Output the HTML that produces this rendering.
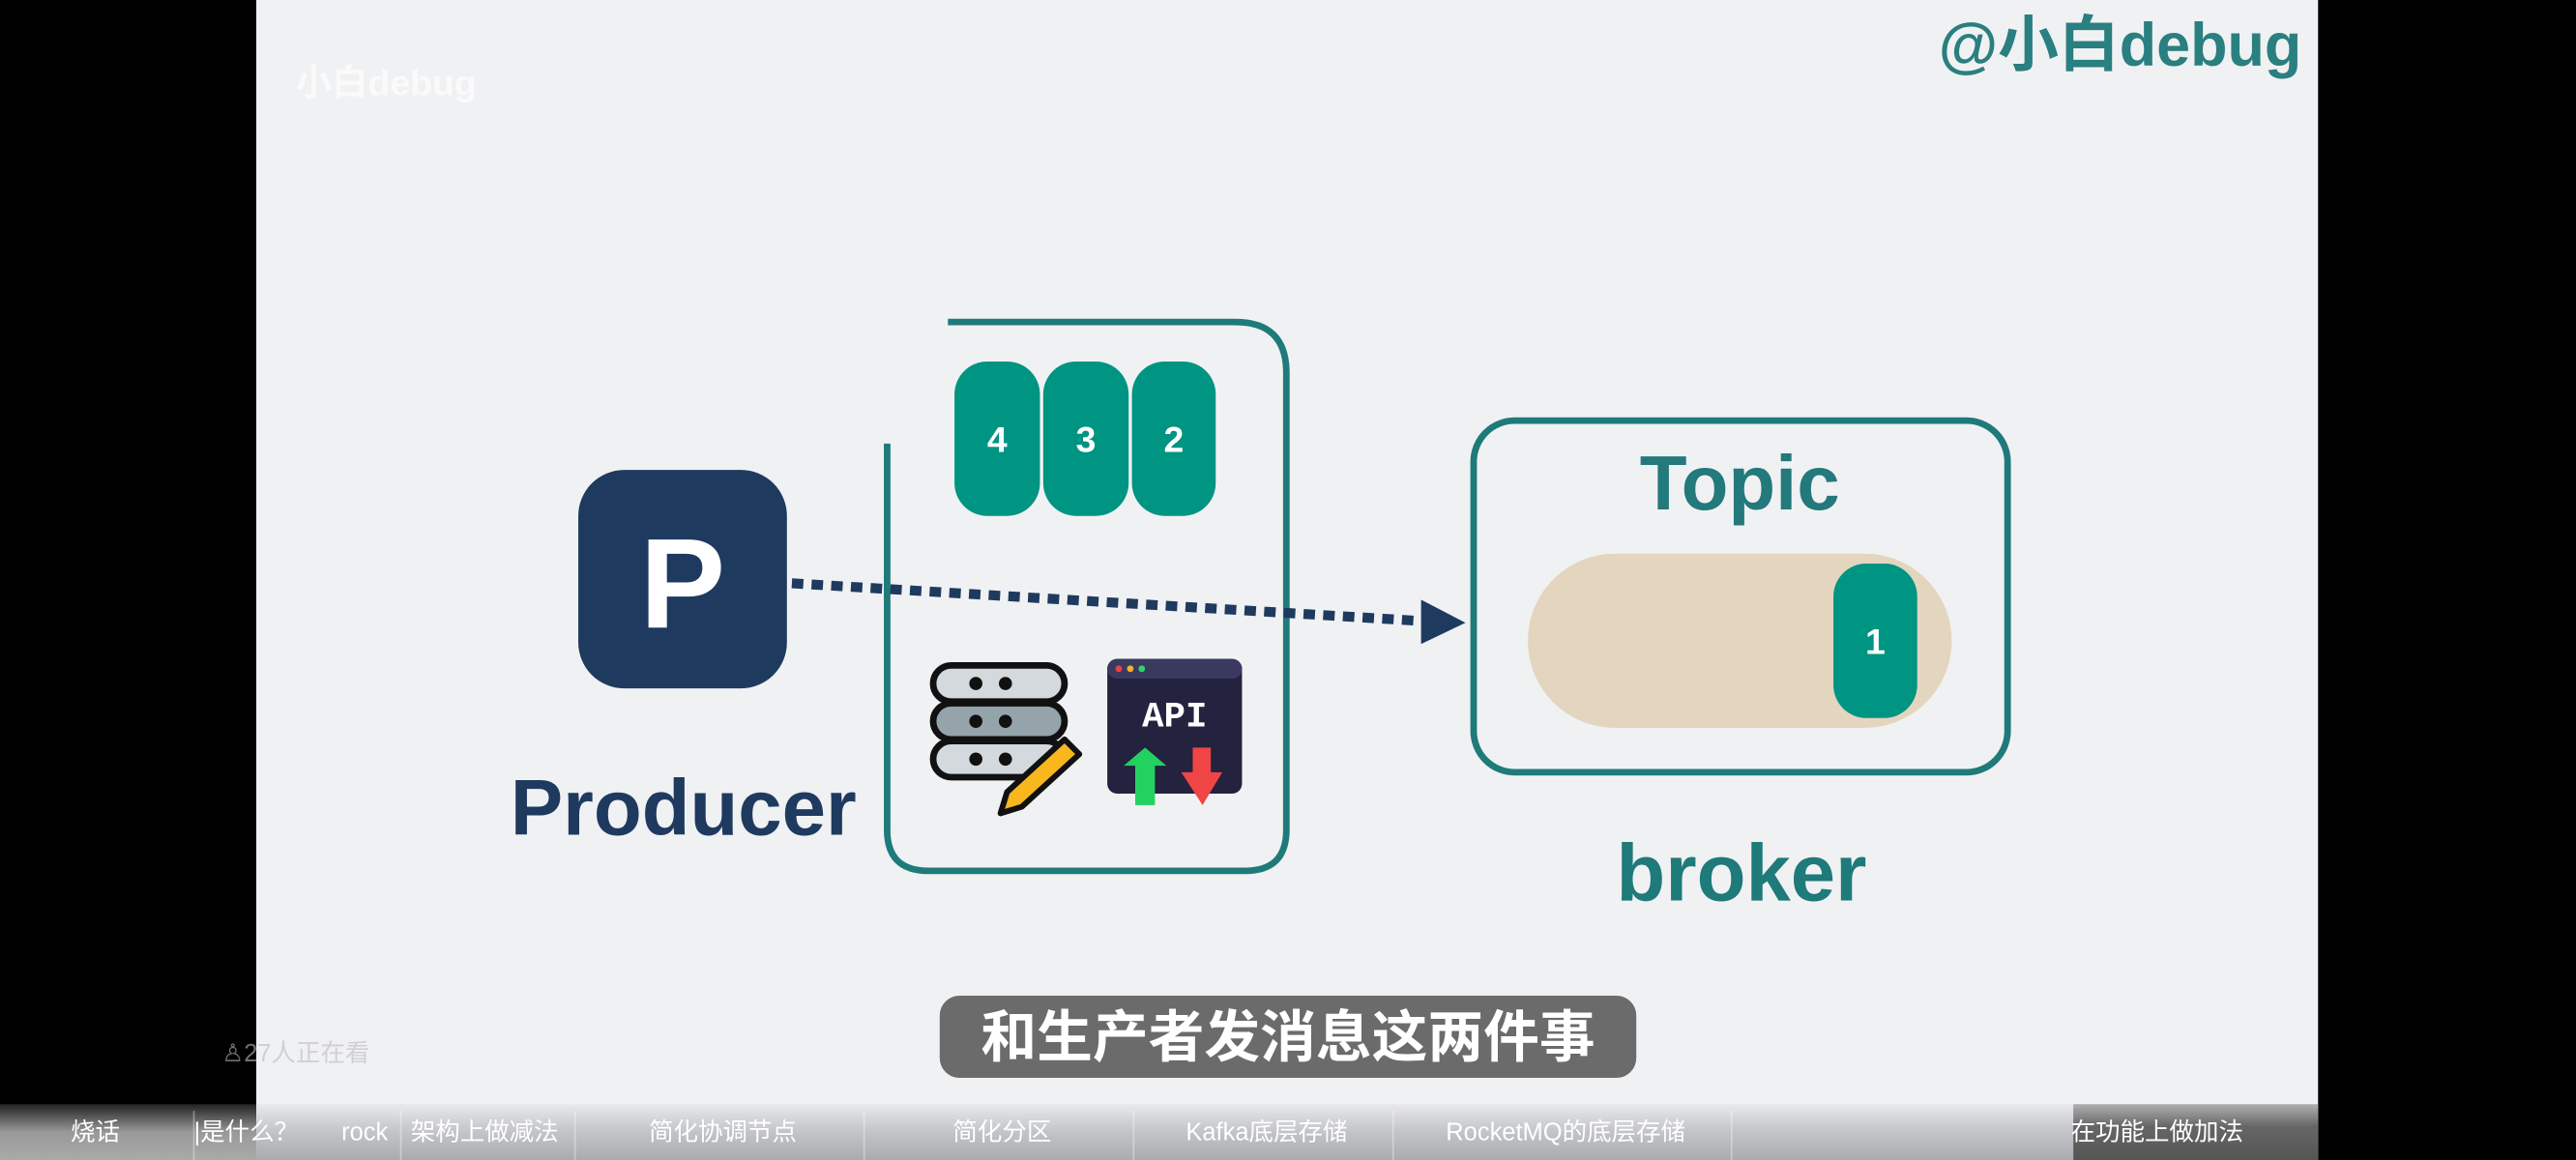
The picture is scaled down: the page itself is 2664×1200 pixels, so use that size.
<!DOCTYPE html>
<html><head><meta charset="utf-8"><style>
html,body{margin:0;padding:0;background:#000;}
svg{display:block;}
text{font-family:"Liberation Sans","Noto Sans CJK SC",sans-serif;}
</style></head><body>
<svg width="2664" height="1200" viewBox="0 0 1568 706" preserveAspectRatio="none" xmlns="http://www.w3.org/2000/svg">
<defs>
<linearGradient id="bar" x1="0" y1="0" x2="0" y2="1">
<stop offset="0" stop-color="#e8e9eb"/><stop offset="0.5" stop-color="#c2c4c7"/><stop offset="1" stop-color="#a9abae"/>
</linearGradient>
<linearGradient id="barL" x1="0" y1="0" x2="0" y2="1">
<stop offset="0" stop-color="#222"/><stop offset="0.5" stop-color="#999"/><stop offset="1" stop-color="#aaa"/>
</linearGradient>
<linearGradient id="barR" x1="0" y1="0" x2="0" y2="1">
<stop offset="0" stop-color="#b0b0b0"/><stop offset="0.4" stop-color="#666"/><stop offset="1" stop-color="#555"/>
</linearGradient>
</defs>
<rect x="0" y="0" width="1568" height="706" fill="#000"/>
<rect x="156" y="0" width="1255" height="706" fill="#f0f1f3"/>

<text x="180" y="58" font-size="22" font-weight="bold" fill="#fff" opacity="0.7">小白debug</text>
<text x="1180" y="40" font-size="37" font-weight="bold" fill="#2a7f80">@小白debug</text>

<!-- Producer -->
<rect x="352" y="286" width="127" height="133" rx="28" fill="#1f3a5f"/>
<text x="415.5" y="382" font-size="78" font-weight="bold" fill="#fff" text-anchor="middle">P</text>
<text x="416" y="508" font-size="48" font-weight="bold" fill="#1f3a5f" text-anchor="middle">Producer</text>

<!-- Middle container -->
<path d="M577 196 L752 196 Q783 196 783 227 L783 505 Q783 530 758 530 L565 530 Q540 530 540 505 L540 270" fill="none" stroke="#1f7a7a" stroke-width="4"/>
<rect x="581" y="220" width="52" height="94" rx="20" fill="#009482"/>
<rect x="635" y="220" width="52" height="94" rx="20" fill="#009482"/>
<rect x="689" y="220" width="51" height="94" rx="20" fill="#009482"/>
<text x="607" y="275" font-size="22" font-weight="bold" fill="#fff" text-anchor="middle">4</text>
<text x="661" y="275" font-size="22" font-weight="bold" fill="#fff" text-anchor="middle">3</text>
<text x="714.5" y="275" font-size="22" font-weight="bold" fill="#fff" text-anchor="middle">2</text>

<!-- dotted arrow -->
<line x1="482" y1="355" x2="866" y2="378" stroke="#1f3a5f" stroke-width="6" stroke-dasharray="7 5"/>
<polygon points="865,365 892,379 865,392" fill="#1f3a5f"/>

<!-- database icon -->
<g stroke="#111" stroke-width="4">
<rect x="568" y="405" width="80" height="22" rx="11" fill="#d3d9dc"/>
<rect x="568" y="428" width="80" height="22" rx="11" fill="#95a3aa"/>
<rect x="568" y="451" width="80" height="22" rx="11" fill="#d3d9dc"/>
</g>
<g fill="#111">
<circle cx="594" cy="416" r="4"/><circle cx="612" cy="416" r="4"/>
<circle cx="594" cy="439" r="4"/><circle cx="612" cy="439" r="4"/>
<circle cx="594" cy="462" r="4"/><circle cx="612" cy="462" r="4"/>
</g>
<polygon points="613,482 648,450 657,459 622,491 609,495" fill="#f7b71d" stroke="#111" stroke-width="3.5" stroke-linejoin="round"/>

<!-- API icon -->
<rect x="674" y="401" width="82" height="82" rx="6" fill="#23223f"/>
<rect x="674" y="401" width="82" height="12" rx="6" fill="#3a3960"/>
<circle cx="681" cy="407" r="2" fill="#e94545"/><circle cx="688" cy="407" r="2" fill="#f5b02e"/><circle cx="695" cy="407" r="2" fill="#2ed46a"/>
<text x="715" y="442" font-size="22" font-weight="bold" fill="#fff" text-anchor="middle" style="font-family:'Liberation Mono',monospace">API</text>
<polygon points="697,455 710,466 703,466 703,490 691,490 691,466 684,466" fill="#23d160"/>
<polygon points="726,455 737,455 737,470 744,470 732,490 719,470 726,470" fill="#f04545"/>

<!-- Topic box -->
<rect x="897" y="256" width="325" height="214" rx="25" fill="none" stroke="#1f7a7a" stroke-width="4"/>
<text x="1059" y="310" font-size="47" font-weight="bold" fill="#23797b" text-anchor="middle">Topic</text>
<rect x="930" y="337" width="258" height="106" rx="53" fill="#e4d5bf"/>
<rect x="1116" y="343" width="51" height="94" rx="20" fill="#009482"/>
<text x="1141.5" y="398" font-size="22" font-weight="bold" fill="#fff" text-anchor="middle">1</text>
<text x="1060" y="548" font-size="49" font-weight="bold" fill="#1f7a7a" text-anchor="middle">broker</text>

<!-- subtitle -->
<rect x="572" y="606" width="424" height="50" rx="12" fill="#6b6b6b"/>
<text x="784" y="643" font-size="34" font-weight="bold" fill="#fff" text-anchor="middle">和生产者发消息这两件事</text>
<text x="135" y="646" font-size="15" fill="#bbb" opacity="0.6">♙27人正在看</text>

<!-- bottom bar -->
<rect x="0" y="672" width="156" height="34" fill="url(#barL)"/>
<rect x="156" y="672" width="1106" height="34" fill="url(#bar)"/>
<rect x="1262" y="672" width="149" height="34" fill="url(#barR)"/>
<g stroke="#ffffff" stroke-opacity="0.35" stroke-width="1">
<line x1="118" y1="676" x2="118" y2="706"/><line x1="244" y1="676" x2="244" y2="706"/>
<line x1="350" y1="676" x2="350" y2="706"/><line x1="526" y1="676" x2="526" y2="706"/>
<line x1="690" y1="676" x2="690" y2="706"/><line x1="848" y1="676" x2="848" y2="706"/>
<line x1="1054" y1="676" x2="1054" y2="706"/>
</g>
<g font-size="15" fill="#fff" text-anchor="middle">
<text x="58" y="694">烧话</text>
<text x="150" y="694">|是什么？</text>
<text x="222" y="694">rock</text>
<text x="295" y="694">架构上做减法</text>
<text x="440" y="694">简化协调节点</text>
<text x="610" y="694">简化分区</text>
<text x="771" y="694">Kafka底层存储</text>
<text x="953" y="694">RocketMQ的底层存储</text>
<text x="1313" y="694">在功能上做加法</text>
</g>
</svg>
</body></html>
